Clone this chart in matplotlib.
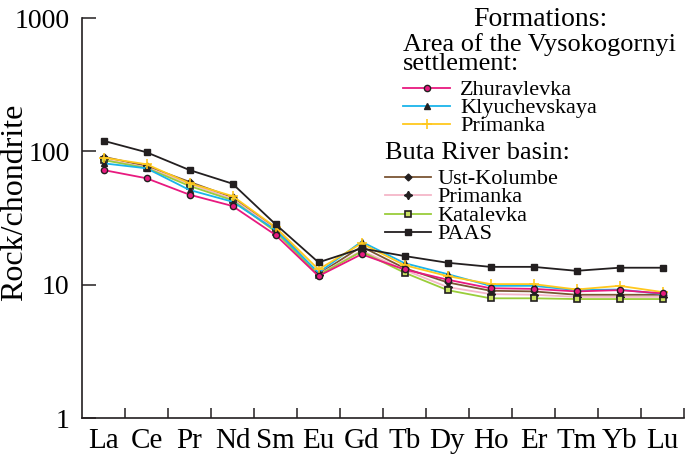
import matplotlib
matplotlib.use("Agg")
import matplotlib.pyplot as plt
from matplotlib.lines import Line2D
from matplotlib.ticker import FixedLocator, NullFormatter, NullLocator

plt.rcParams['font.family'] = ['Liberation Serif', 'DejaVu Serif']

# --- DATA (chondrite-normalised REE) ---
elements = ['La', 'Ce', 'Pr', 'Nd', 'Sm', 'Eu', 'Gd', 'Tb', 'Dy', 'Ho', 'Er', 'Tm', 'Yb', 'Lu']

zhuravlevka   = [72.4, 62.8, 47.3, 38.9, 23.6, 11.6, 16.9, 13.0, 10.9, 9.4, 9.3, 8.9, 9.1, 8.6]
klyuchevskaya = [81.3, 74.6, 51.3, 41.9, 25.7, 12.3, 21.0, 14.5, 12.0, 9.8, 9.8, 9.1, 9.2, 8.5]
primanka_v    = [89.6, 80.0, 57.6, 46.2, 27.0, 13.0, 20.4, 14.0, 11.6, 10.1, 10.1, 9.2, 9.8, 8.8]
ust_kolumbe   = [91.0, 77.6, 59.0, 45.2, 26.5, 12.0, 19.3, 13.3, 10.4, 9.0, 8.9, 8.4, 8.4, 8.4]
primanka_b    = [87.0, 76.0, 57.0, 44.0, 26.0, 11.9, 18.0, 12.9, 9.6, 8.5, 8.4, 8.1, 8.1, 8.1]
katalevka     = [86.0, 75.0, 55.0, 43.0, 25.0, 11.8, 17.7, 12.3, 9.1, 7.9, 7.9, 7.8, 7.8, 7.8]
paas          = [120.0, 98.4, 72.4, 57.2, 28.4, 14.7, 18.7, 16.4, 14.6, 13.6, 13.6, 12.7, 13.4, 13.4]

group1_labels = ['Zhuravlevka', 'Klyuchevskaya', 'Primanka']
group2_labels = ['Ust-Kolumbe', 'Primanka', 'Katalevka', 'PAAS']

x = list(range(len(elements)))
W, H = 685, 458

fig = plt.figure(figsize=(6.85, 4.58), dpi=100)
ax = fig.add_axes([82 / W, 1 - 418 / H, 602 / W, 400 / H])

lw = 1.3
l_ust, = ax.plot(x, ust_kolumbe, color='#7b5534', lw=lw, marker='D', ms=3.5,
                 mfc='#231f20', mec='#231f20')
l_prb, = ax.plot(x, primanka_b, color='#f4b6c8', lw=lw, marker=(4, 1, 0), ms=6,
                 mfc='#231f20', mec='#231f20')
l_kat, = ax.plot(x, katalevka, color='#9acd3a', lw=lw, marker='s', ms=4.5,
                 mfc='#c8e060', mec='#231f20', mew=1.2)
l_kly, = ax.plot(x, klyuchevskaya, color='#1ab4ea', lw=lw, marker='^', ms=5,
                 mfc='#231f20', mec='#231f20')
l_prv, = ax.plot(x, primanka_v, color='#ffc81e', lw=lw, marker='+', ms=7,
                 mew=1.2, mec='#ffc81e')
l_zhu, = ax.plot(x, zhuravlevka, color='#e8197f', lw=lw, marker='o', ms=4.5,
                 mfc='#e8197f', mec='#231f20', mew=1.0)
l_paas, = ax.plot(x, paas, color='#231f20', lw=lw, marker='s', ms=4.5,
                  mfc='#231f20', mec='#231f20')

# --- axes ---
ax.set_yscale('log')
ax.set_ylim(1, 1000)
ax.set_xlim(-0.5, len(elements) - 0.5)
ax.spines['top'].set_visible(False)
ax.spines['right'].set_visible(False)
for s in ('left', 'bottom'):
    ax.spines[s].set_linewidth(1.2)
    ax.spines[s].set_color('#231f20')

ax.set_xticks(x)
ax.set_xticklabels(elements, fontsize=21)
ax.xaxis.set_minor_locator(FixedLocator([i + 0.5 for i in x]))
ax.xaxis.set_minor_formatter(NullFormatter())
ax.tick_params(axis='x', which='major', length=0, pad=7)
ax.tick_params(axis='x', which='minor', direction='in', length=7, width=1.1,
               color='#231f20')

ax.set_yticks([1, 10, 100, 1000])
ax.set_yticklabels(['1', '10', '100', '1000'], fontsize=20)
ax.yaxis.set_minor_locator(NullLocator())
ax.tick_params(axis='y', direction='in', length=10, width=1.1, pad=9,
               color='#231f20')

ax.set_ylabel('Rock/chondrite', fontsize=23, va='center')
ax.yaxis.set_label_coords(-0.112, 0.54)

# --- legend (drawn by hand to get the tight spacing of the original) ---
fig.text(540 / W, 1 - 19 / H, 'Formations:', fontsize=20, ha='center', va='center')
fig.text(403 / W, 1 - 54 / H, 'Area of the Vysokogornyi\nsettlement:', fontsize=19,
         ha='left', va='center', linespacing=0.82)
fig.text(385 / W, 1 - 153 / H, 'Buta River basin:', fontsize=19, ha='left', va='center')


def legend_rows(lines, labels, x0, x1, xt, y0, dy):
    for i, (ln, lab) in enumerate(zip(lines, labels)):
        y = 1 - (y0 + i * dy) / H
        h = Line2D([x0 / W, (x0 + x1) / 2 / W, x1 / W], [y, y, y])
        h.update_from(ln)
        h.set_transform(fig.transFigure)
        h.set_markevery([1])
        fig.add_artist(h)
        fig.text(xt / W, y, lab, fontsize=16, ha='left', va='center_baseline')


legend_rows([l_zhu, l_kly, l_prv], group1_labels, 403, 450, 460, 88, 18.2)
legend_rows([l_ust, l_prb, l_kat, l_paas], group2_labels, 385, 431, 437, 177, 18.3)

fig.savefig('out.png', dpi=100)
